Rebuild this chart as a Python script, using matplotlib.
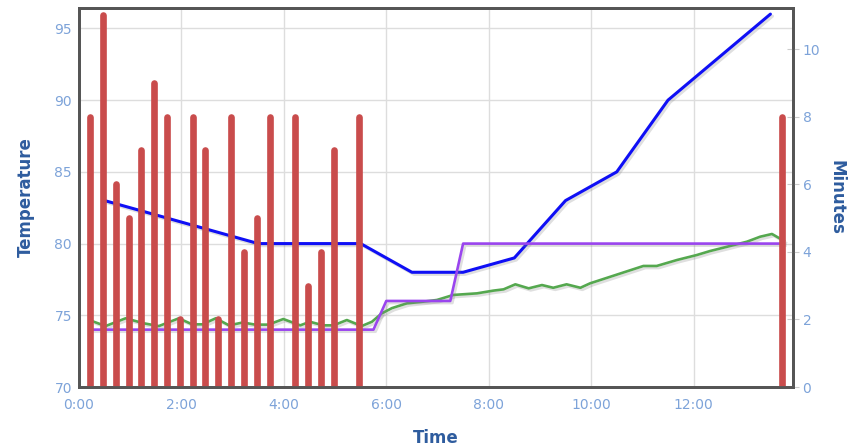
import matplotlib
matplotlib.use('Agg')
import matplotlib.pyplot as plt
import matplotlib.patheffects as pe
from matplotlib.ticker import FuncFormatter, MultipleLocator

# times in minutes
bar_t = [0.22, 0.47, 0.72, 0.97, 1.22, 1.47, 1.72, 1.97, 2.22, 2.47, 2.72, 2.97,
         3.22, 3.47, 3.72, 4.22, 4.47, 4.72, 4.97, 5.47, 13.72]
bar_min = [8, 11, 6, 5, 7, 9, 8, 2, 8, 7, 2, 8, 4, 5, 8, 8, 3, 4, 7, 8, 8]

blue_t = [0.5, 3.5, 5.5, 6.5, 7.5, 8.5, 9.5, 10.5, 11.5, 13.5]
blue_temp = [83, 80, 80, 78, 78, 79, 83, 85, 90, 96]

purple_t = [0.25, 5.75, 6.0, 7.25, 7.5, 13.75]
purple_temp = [74, 74, 76, 76, 80, 80]

green_t = [0.29, 0.52, 0.91, 1.27, 1.56, 1.95, 2.21, 2.41, 2.67, 2.93, 3.2, 3.44,
           3.70, 3.99, 4.32, 4.51, 4.77, 4.97, 5.23, 5.52, 5.72, 5.91, 6.11, 6.4,
           6.72, 6.99, 7.31, 7.77, 8.09, 8.29, 8.52, 8.78, 9.04, 9.26, 9.52, 9.79,
           9.98, 11.02, 11.28, 11.68, 12.06, 12.32, 12.71, 13.04, 13.3, 13.53, 13.76]
green_temp = [74.55, 74.25, 74.79, 74.44, 74.25, 74.79, 74.37, 74.37, 74.79, 74.3, 74.5, 74.35,
              74.35, 74.74, 74.3, 74.55, 74.3, 74.3, 74.67, 74.25, 74.55, 75.13, 75.5, 75.83,
              75.95, 76.07, 76.42, 76.53, 76.72, 76.81, 77.16, 76.88, 77.11, 76.92, 77.16, 76.92,
              77.23, 78.44, 78.44, 78.86, 79.2, 79.48, 79.83, 80.13, 80.48, 80.67, 80.2]

tick_col = '#7da3d9'
label_col = '#2e5c9e'

fig = plt.figure(figsize=(8.5, 4.47), dpi=100)
ax = fig.add_axes([0.0929, 0.1342, 0.8406, 0.849])
ax2 = ax.twinx()

shadow = [pe.SimpleLineShadow(offset=(1.5, -1.5), shadow_color='gray', alpha=0.25), pe.Normal()]

ax.plot(blue_t, blue_temp, color='#0f0ff5', lw=2.2, path_effects=shadow, solid_capstyle='round')
ax.plot(green_t, green_temp, color='#55a84f', lw=1.9, path_effects=shadow)
ax.plot(purple_t, purple_temp, color='#9a45ee', lw=1.9, path_effects=shadow)

ax2.vlines(bar_t, 0, bar_min, color='#c94c4c', lw=4.8, capstyle='round')

ax.set_xlim(0, 13.95)
ax.set_ylim(70, 96.46)
ax2.set_ylim(0, 11.23)

ax.xaxis.set_major_locator(MultipleLocator(2))
ax.xaxis.set_major_formatter(FuncFormatter(lambda v, p: f"{int(v)}:00"))
ax.set_yticks([70, 75, 80, 85, 90, 95])
ax2.set_yticks([0, 2, 4, 6, 8, 10])

ax.grid(True, color='#dddddd', lw=1)
ax.set_axisbelow(True)

ax.tick_params(axis='both', length=0, colors=tick_col, labelsize=10, pad=5)
ax.tick_params(axis='x', pad=8)
ax2.tick_params(axis='y', direction='inout', length=9, color='#cccccc',
                labelcolor=tick_col, labelsize=10, pad=2)

for a in (ax, ax2):
    for s in a.spines.values():
        s.set_color('#555555')
        s.set_linewidth(2)

ax.set_ylabel('Temperature', fontsize=12, fontweight='bold', color=label_col, labelpad=14)
ax2.set_ylabel('Minutes', fontsize=12, fontweight='bold', color=label_col, rotation=-90, labelpad=18)
ax.set_xlabel('Time', fontsize=12, fontweight='bold', color=label_col, labelpad=12)

fig.savefig('out.png', dpi=100)
